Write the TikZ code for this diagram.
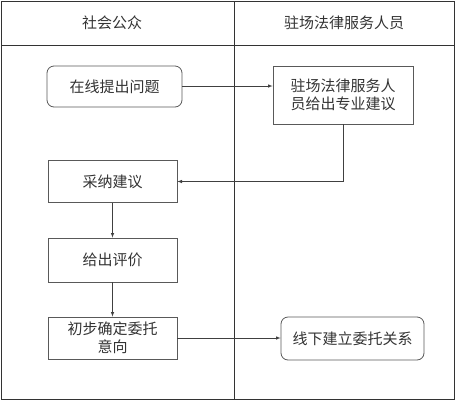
\documentclass[tikz,border=0pt]{standalone}
\usepackage{fontspec}
\setmainfont{Noto Sans CJK SC}
\usetikzlibrary{arrows}

\begin{document}
\begin{tikzpicture}[x=1pt,y=-1pt,->,>=latex,
		line/.style={draw=black!75, line width=0.6pt},
		box/.style={draw=black!65, line width=0.8pt, align=center, text=black!80, inner sep=0pt, minimum width=129pt, minimum height=42pt},
		roundbox/.style={box, rounded corners=7pt},
		frame/.style={draw=black!80, line width=0.8pt},
		]
			\fontsize{15}{18}\selectfont
			\useasboundingbox (0,0) rectangle (458,400);
			% swimlanes
			\draw[frame,-] (1,1) rectangle (454,399);
			\draw[frame,-] (1,45) -- (454,45);
			\draw[frame,-] (234,1) -- (234,399);
			\node[text=black!80] at (112, 23) (lane-public) {社会公众};
			\node[text=black!80] at (344, 23) (lane-lawyer) {驻场法律服务人员};
			% steps
			\node[roundbox, minimum width=135pt, minimum height=41pt] at (114.5, 86.5) (ask) {在线提出问题};
			\node[box, minimum width=140pt, minimum height=58pt] at (343, 95) (advice) {驻场法律服务人\\员给出专业建议};
			\node[box] at (112.5, 181.5) (adopt) {采纳建议};
			\node[box, minimum height=44pt] at (112.5, 260) (rate) {给出评价};
			\node[box] at (112.5, 338) (intent) {初步确定委托\\意向};
			\node[roundbox, minimum width=143pt, minimum height=43pt] at (352.5, 338.5) (offline) {线下建立委托关系};
			% arrows
			\draw[line] (ask.east |- 0,86) -- (advice.west |- 0,86);
			\draw[line] (advice.south) |- (adopt.east);
			\draw[line] (adopt) -- (rate);
			\draw[line] (rate) -- (intent);
			\draw[line] (intent.east) -- (offline.west |- intent.east);
		\end{tikzpicture}
\end{document}
